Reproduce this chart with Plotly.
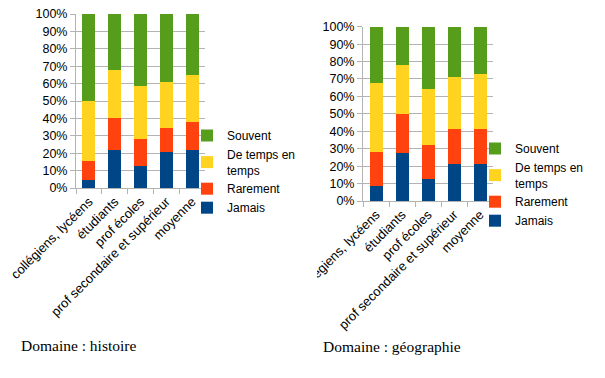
import plotly.graph_objects as go

categories = ["collégiens, lycéens", "étudiants", "prof écoles",
              "prof secondaire et supérieur", "moyenne"]
series_names = ["Jamais", "Rarement", "De temps en<br>temps", "Souvent"]
colors = ["#004586", "#ff420e", "#ffd320", "#579d1c"]

# Domaine : histoire (percent of each group)
hist_jamais = [4.6, 21.8, 12.4, 20.8, 22.1]
hist_rarement = [11.2, 18.7, 15.5, 13.9, 16.1]
hist_detemps = [34.2, 27.2, 30.9, 26.4, 26.7]
hist_souvent = [50.0, 32.3, 41.2, 38.9, 35.1]

# Domaine : géographie
geo_jamais = [8.8, 27.3, 12.4, 21.0, 21.4]
geo_rarement = [19.5, 22.4, 19.5, 20.5, 20.1]
geo_detemps = [39.2, 28.1, 32.5, 29.6, 31.2]
geo_souvent = [32.5, 22.2, 35.6, 28.9, 27.3]

ytick_vals = list(range(0, 101, 10))
ytick_text = [f"{v}%" for v in ytick_vals]

OFF = 8  # page body margin
W, H = 605 - OFF, 378 - OFF


def X(px):
    return (px - OFF) / W


def Y(py):
    return (H - (py - OFF)) / H


fig = go.Figure()

hist = [hist_jamais, hist_rarement, hist_detemps, hist_souvent]
geo = [geo_jamais, geo_rarement, geo_detemps, geo_souvent]

for name, col, vals in zip(series_names, colors, hist):
    fig.add_trace(go.Bar(x=categories, y=vals, name=name, marker_color=col,
                         marker_line_width=0, xaxis="x", yaxis="y", legend="legend"))
for name, col, vals in zip(series_names, colors, geo):
    fig.add_trace(go.Bar(x=categories, y=vals, name=name, marker_color=col,
                         marker_line_width=0, xaxis="x2", yaxis="y2", legend="legend2"))

grid = "#b3b3b3"
font_sans = "Liberation Sans, Arial, sans-serif"
font_serif = "Liberation Serif, serif"


def xaxis(domain, anchor):
    return dict(domain=domain, anchor=anchor, type="category", tickangle=-45,
                automargin=False, ticklabeloverflow="allow",
                showline=True, linecolor=grid, linewidth=1,
                ticks="outside", tickson="boundaries", ticklen=5, tickcolor=grid,
                tickfont=dict(family=font_sans, size=13, color="#000"),
                showgrid=False, zeroline=False, fixedrange=True)


def yaxis(domain, anchor):
    return dict(domain=domain, anchor=anchor, range=[0, 100], automargin=False,
                ticklabeloverflow="allow",
                tickvals=ytick_vals, ticktext=ytick_text,
                showline=True, linecolor=grid, linewidth=1,
                ticks="outside", ticklen=5, tickcolor=grid,
                showgrid=True, gridcolor=grid, gridwidth=1, zeroline=False,
                tickfont=dict(family=font_sans, size=12.5, color="#000"),
                fixedrange=True)


legend_common = dict(traceorder="reversed", bgcolor="rgba(0,0,0,0)",
                     font=dict(family=font_sans, size=12, color="#000"),
                     itemclick=False, itemdoubleclick=False,
                     tracegroupgap=0, yanchor="top", xanchor="left")

fig.update_layout(
    width=W, height=H,
    margin=dict(l=0, r=0, t=0, b=0, autoexpand=False),
    paper_bgcolor="white", plot_bgcolor="white",
    barmode="stack", bargap=0.5,
    showlegend=True,
    xaxis=xaxis([X(76), X(205)], "y"),
    yaxis=yaxis([Y(188), Y(14)], "x"),
    xaxis2=xaxis([X(363), X(493)], "y2"),
    yaxis2=yaxis([Y(201), Y(26.7)], "x2"),
    legend=dict(x=X(187), y=Y(121), **legend_common),
    legend2=dict(x=X(475), y=Y(134), **legend_common),
    annotations=[
        dict(text="Domaine : histoire", x=X(19), y=Y(345),
             xref="paper", yref="paper", xanchor="left", yanchor="middle",
             showarrow=False, font=dict(family=font_serif, size=15.5, color="#000")),
        dict(text="Domaine : géographie", x=X(321), y=Y(346),
             xref="paper", yref="paper", xanchor="left", yanchor="middle",
             showarrow=False, font=dict(family=font_serif, size=15.5, color="#000")),
    ],
    shapes=[
        # mimic the cropping of the right chart's first label
        dict(type="rect", xref="paper", yref="paper", layer="above",
             x0=X(280), x1=X(317), y0=Y(300), y1=Y(222),
             fillcolor="white", line_width=0),
    ],
)

fig.write_html("out.html")
